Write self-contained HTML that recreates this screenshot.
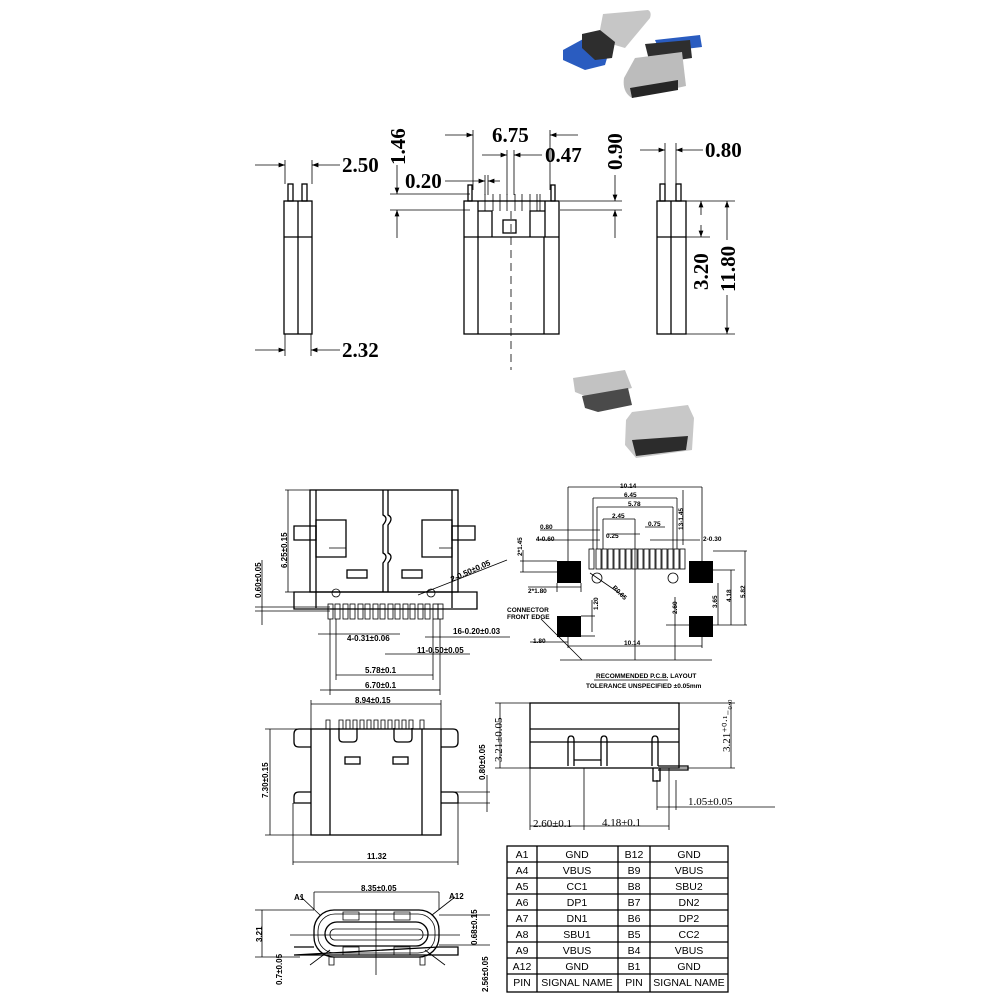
<!DOCTYPE html>
<html><head><meta charset="utf-8"><style>
html,body{margin:0;padding:0;background:#fff}
svg{display:block}
.s{fill:none;stroke:#000;stroke-width:1.3}
.t{fill:none;stroke:#000;stroke-width:0.8}
.big{font-family:"Liberation Serif",serif;font-weight:bold;font-size:21px}
.sm{font-family:"Liberation Sans",sans-serif;font-size:8px;font-weight:bold}
.tb{font-family:"Liberation Sans",sans-serif;font-size:10.5px}
</style></head><body>
<svg width="1002" height="1002" viewBox="0 0 1002 1002" xmlns="http://www.w3.org/2000/svg">
<defs><marker id="a" markerWidth="8" markerHeight="6" refX="8" refY="3" orient="auto-start-reverse"><path d="M0,0L8,3L0,6z"/></marker></defs>
<rect width="1002" height="1002" fill="#fff"/>

<!-- photo 1 -->
<g>
<path d="M603,14 L648,10 Q652,12 650,18 L625,48 L598,40Z" fill="#c6c6c6"/>
<path d="M563,50 L585,38 L610,48 L605,65 L585,70 L563,60Z" fill="#2a5cc0"/>
<path d="M582,34 L600,30 L615,42 L612,58 L595,60 L582,48Z" fill="#2e2e2e"/>
<path d="M655,40 L700,35 L702,47 L660,52Z" fill="#2a5cc0"/>
<path d="M645,44 L690,40 L692,58 L650,64Z" fill="#2e2e2e"/>
<path d="M635,58 L682,52 L686,86 L632,98 Q622,92 624,78Z" fill="#bcbcbc"/>
<path d="M630,88 L678,80 L678,90 L632,98Z" fill="#262626"/>
</g>
<!-- photo 2 -->
<g>
<path d="M573,378 L625,370 L632,388 L590,398 L575,392Z" fill="#c2c2c2"/>
<path d="M582,396 L628,388 L632,405 L598,412 L585,408Z" fill="#4a4a4a"/>
<path d="M632,412 L688,405 L694,418 L692,450 L636,458 L625,445 L626,420Z" fill="#c8c8c8"/>
<path d="M632,440 L688,436 L686,450 L636,456Z" fill="#2c2c2c"/>
</g>

<!-- TOP: left side view -->
<g class="s">
<rect x="284" y="201" width="28" height="133"/>
<line x1="298" y1="201" x2="298" y2="334"/>
<line x1="284" y1="237" x2="312" y2="237"/>
<rect x="288" y="184" width="5" height="17"/>
<rect x="302" y="184" width="5" height="17"/>
</g>
<g class="t">
<line x1="285" y1="160" x2="285" y2="184"/><line x1="312" y1="160" x2="312" y2="184"/>
<line x1="255" y1="165" x2="285" y2="165" marker-end="url(#a)"/><line x1="340" y1="165" x2="312" y2="165" marker-end="url(#a)"/>
<line x1="285" y1="334" x2="285" y2="356"/><line x1="311" y1="334" x2="311" y2="356"/>
<line x1="255" y1="350" x2="285" y2="350" marker-end="url(#a)"/><line x1="340" y1="350" x2="311" y2="350" marker-end="url(#a)"/>
</g>
<text class="big" x="342" y="172">2.50</text>
<text class="big" x="342" y="357">2.32</text>

<!-- TOP: middle view -->
<g class="s">
<rect x="464" y="201" width="95" height="133"/>
<line x1="478" y1="237" x2="478" y2="334"/><line x1="544" y1="237" x2="544" y2="334"/>
<line x1="464" y1="237" x2="559" y2="237"/>
<line x1="478" y1="201" x2="478" y2="237"/><line x1="545" y1="201" x2="545" y2="237"/>
<path d="M478,211 L492,211 L492,237 M545,211 L530,211 L530,237"/>
<rect x="468" y="185" width="4" height="16"/><rect x="551" y="185" width="4" height="16"/>
<rect x="503" y="220" width="13" height="13"/>
</g>
<g class="t">
<path d="M485,194v17M493,194v17M500,194v17M507,194v17M515,194v17M522,194v17M530,194v17M537,194v17M540,194v17"/>
<line x1="511" y1="211" x2="511" y2="370" stroke-dasharray="8,5"/>
<line x1="473" y1="130" x2="473" y2="190"/><line x1="550" y1="130" x2="550" y2="190"/>
<line x1="445" y1="135" x2="473" y2="135" marker-end="url(#a)"/><line x1="578" y1="135" x2="550" y2="135" marker-end="url(#a)"/>
<line x1="507" y1="150" x2="507" y2="195"/><line x1="514" y1="150" x2="514" y2="195"/>
<line x1="482" y1="155" x2="507" y2="155" marker-end="url(#a)"/><line x1="542" y1="155" x2="514" y2="155" marker-end="url(#a)"/>
<line x1="485" y1="175" x2="485" y2="195"/><line x1="488" y1="175" x2="488" y2="195"/>
<line x1="445" y1="181" x2="485" y2="181" marker-end="url(#a)"/><line x1="500" y1="181" x2="488" y2="181" marker-end="url(#a)"/>
<line x1="390" y1="194" x2="470" y2="194"/><line x1="390" y1="210" x2="470" y2="210"/>
<line x1="397" y1="165" x2="397" y2="194" marker-end="url(#a)"/><line x1="397" y1="238" x2="397" y2="210" marker-end="url(#a)"/>
<line x1="560" y1="201" x2="622" y2="201"/><line x1="560" y1="210" x2="622" y2="210"/>
<line x1="615" y1="175" x2="615" y2="201" marker-end="url(#a)"/><line x1="615" y1="238" x2="615" y2="210" marker-end="url(#a)"/>
</g>
<text class="big" x="492" y="142">6.75</text>
<text class="big" x="545" y="162">0.47</text>
<text class="big" x="405" y="188">0.20</text>
<text class="big" transform="translate(405,165) rotate(-90)">1.46</text>
<text class="big" transform="translate(622,170) rotate(-90)">0.90</text>

<!-- TOP: right view -->
<g class="s">
<rect x="657" y="201" width="29" height="133"/>
<line x1="671" y1="201" x2="671" y2="334"/>
<line x1="657" y1="237" x2="686" y2="237"/>
<rect x="660" y="184" width="5" height="17"/><rect x="676" y="184" width="5" height="17"/>
</g>
<g class="t">
<line x1="665" y1="143" x2="665" y2="184"/><line x1="676" y1="143" x2="676" y2="184"/>
<line x1="640" y1="150" x2="665" y2="150" marker-end="url(#a)"/><line x1="703" y1="150" x2="676" y2="150" marker-end="url(#a)"/>
<line x1="686" y1="201" x2="735" y2="201"/><line x1="686" y1="237" x2="710" y2="237"/><line x1="686" y1="334" x2="735" y2="334"/>
<line x1="701" y1="215" x2="701" y2="201" marker-end="url(#a)"/><line x1="701" y1="225" x2="701" y2="237" marker-end="url(#a)"/>
<line x1="727" y1="240" x2="727" y2="201" marker-end="url(#a)"/><line x1="727" y1="295" x2="727" y2="334" marker-end="url(#a)"/>
</g>
<text class="big" x="705" y="157">0.80</text>
<text class="big" transform="translate(708,290) rotate(-90)">3.20</text>
<text class="big" transform="translate(735,292) rotate(-90)">11.80</text>

<!-- MIDDLE LEFT -->
<g class="s">
<rect x="310" y="490" width="148" height="102"/>
<line x1="316" y1="490" x2="316" y2="608"/><line x1="452" y1="490" x2="452" y2="608"/>
<path d="M294,526h22v14h-22z M452,526h23v14h-23z" />
<path d="M294,592h183v17h-183z"/>
<path d="M383,490v25q6,3 0,10v28q6,3 0,10v29M388,490v25q6,3 0,10v28q6,3 0,10v29"/>
<path d="M316,520h30v37h-30z M422,520h30v37h-30z"/>
<path d="M329,548h17v9M439,548h13v9" class="t"/>
<rect x="347" y="570" width="20" height="8"/><rect x="402" y="570" width="20" height="8"/>
</g>
<g class="t">
<circle cx="336" cy="593" r="4"/><circle cx="431" cy="593" r="4"/>
<rect x="328" y="604" width="5" height="15"/><rect x="335" y="604" width="5" height="15"/><rect x="343" y="604" width="5" height="15"/><rect x="350" y="604" width="5" height="15"/><rect x="358" y="604" width="5" height="15"/><rect x="365" y="604" width="5" height="15"/><rect x="373" y="604" width="5" height="15"/><rect x="380" y="604" width="5" height="15"/><rect x="388" y="604" width="5" height="15"/><rect x="395" y="604" width="5" height="15"/><rect x="403" y="604" width="5" height="15"/><rect x="410" y="604" width="5" height="15"/><rect x="418" y="604" width="5" height="15"/><rect x="425" y="604" width="5" height="15"/><rect x="433" y="604" width="5" height="15"/><rect x="438" y="604" width="5" height="15"/>
<line x1="285" y1="490" x2="310" y2="490"/><line x1="285" y1="592" x2="294" y2="592"/>
<line x1="288" y1="490" x2="288" y2="592"/>
<line x1="255" y1="607" x2="330" y2="607"/><line x1="255" y1="611" x2="330" y2="611"/>
<line x1="262" y1="560" x2="262" y2="625"/>
<line x1="330" y1="619" x2="330" y2="695"/><line x1="440" y1="619" x2="440" y2="695"/>
<line x1="336" y1="619" x2="336" y2="680"/><line x1="433" y1="619" x2="433" y2="680"/>
<line x1="336" y1="675" x2="433" y2="675"/><line x1="330" y1="690" x2="440" y2="690"/>
<line x1="318" y1="634" x2="400" y2="634"/>
<line x1="385" y1="654" x2="470" y2="654"/>
<line x1="425" y1="637" x2="510" y2="637"/>
<line x1="418" y1="595" x2="507" y2="560"/>
</g>
<text class="sm" transform="translate(287,568) rotate(-90)">6.25±0.15</text>
<text class="sm" transform="translate(261,598) rotate(-90)">0.60±0.05</text>
<text class="sm" transform="translate(452,582) rotate(-24)">2-0.50±0.05</text>
<text class="sm" x="453" y="634">16-0.20±0.03</text>
<text class="sm" x="347" y="641">4-0.31±0.06</text>
<text class="sm" x="417" y="653">11-0.50±0.05</text>
<text class="sm" x="365" y="673">5.78±0.1</text>
<text class="sm" x="365" y="688">6.70±0.1</text>

<!-- MIDDLE RIGHT PCB -->
<g fill="#000">
<rect x="557" y="561" width="24" height="22"/><rect x="689" y="561" width="24" height="22"/>
<rect x="557" y="616" width="24" height="21"/><rect x="689" y="616" width="24" height="21"/>
</g>
<g class="t">
<rect x="589" y="549" width="5" height="20"/><rect x="596" y="549" width="5" height="20"/><rect x="602" y="549" width="5" height="20"/><rect x="608" y="549" width="5" height="20"/><rect x="614" y="549" width="5" height="20"/><rect x="620" y="549" width="5" height="20"/><rect x="626" y="549" width="5" height="20"/><rect x="632" y="549" width="5" height="20"/><rect x="638" y="549" width="5" height="20"/><rect x="644" y="549" width="5" height="20"/><rect x="650" y="549" width="5" height="20"/><rect x="656" y="549" width="5" height="20"/><rect x="662" y="549" width="5" height="20"/><rect x="668" y="549" width="5" height="20"/><rect x="674" y="549" width="5" height="20"/><rect x="680" y="549" width="5" height="20"/>
<circle cx="597" cy="578" r="5"/><circle cx="673" cy="578" r="5"/>
<line x1="568" y1="487" x2="702" y2="487"/><line x1="568" y1="487" x2="568" y2="561"/><line x1="702" y1="487" x2="702" y2="561"/>
<line x1="593" y1="498" x2="677" y2="498"/><line x1="593" y1="498" x2="593" y2="549"/><line x1="677" y1="498" x2="677" y2="549"/>
<line x1="597" y1="507" x2="673" y2="507"/><line x1="597" y1="507" x2="597" y2="549"/><line x1="673" y1="507" x2="673" y2="549"/>
<line x1="603" y1="519" x2="635" y2="519"/><line x1="603" y1="519" x2="603" y2="549"/><line x1="635" y1="519" x2="635" y2="660"/>
<line x1="540" y1="530" x2="600" y2="530"/><line x1="536" y1="540" x2="600" y2="540"/>
<line x1="607" y1="534" x2="640" y2="534"/><line x1="645" y1="527" x2="665" y2="527"/><line x1="650" y1="540" x2="700" y2="540"/>
<line x1="683" y1="490" x2="683" y2="545"/>
<line x1="523" y1="550" x2="523" y2="572"/><line x1="520" y1="561" x2="557" y2="561"/><line x1="520" y1="572" x2="557" y2="572"/>
<line x1="528" y1="587" x2="581" y2="587"/><line x1="557" y1="583" x2="557" y2="592"/><line x1="581" y1="583" x2="581" y2="592"/>
<line x1="592" y1="600" x2="592" y2="632"/><line x1="581" y1="616" x2="595" y2="616"/><line x1="581" y1="636" x2="595" y2="636"/>
<line x1="530" y1="642" x2="568" y2="642"/><line x1="568" y1="636" x2="568" y2="648"/>
<line x1="568" y1="646" x2="702" y2="646"/><line x1="702" y1="636" x2="702" y2="648"/>
<line x1="560" y1="660" x2="712" y2="660"/>
<line x1="541" y1="619" x2="582" y2="660"/>
<line x1="590" y1="573" x2="625" y2="597"/>
<line x1="713" y1="551" x2="747" y2="551"/><line x1="713" y1="570" x2="735" y2="570"/><line x1="713" y1="625" x2="747" y2="625"/>
<line x1="745" y1="551" x2="745" y2="625"/><line x1="731" y1="570" x2="731" y2="625"/><line x1="718" y1="583" x2="718" y2="625"/>
<line x1="675" y1="597" x2="675" y2="660"/><line x1="666" y1="625" x2="689" y2="625"/>
<line x1="594" y1="680" x2="668" y2="680"/>
</g>
<g class="sm" style="font-size:6.5px">
<text x="620" y="488">10.14</text><text x="624" y="497">6.45</text><text x="628" y="506">5.78</text><text x="612" y="518">2.45</text>
<text x="540" y="529">0.80</text><text x="536" y="541">4-0.60</text><text x="606" y="538">0.25</text><text x="648" y="526">0.75</text><text x="703" y="541">2-0.30</text>
<text x="528" y="593">2*1.80</text><text x="533" y="643">1.80</text><text x="624" y="645">10.14</text>
<text x="507" y="612">CONNECTOR</text><text x="507" y="619">FRONT EDGE</text>
<text transform="translate(522,556) rotate(-90)">2*1.45</text>
<text transform="translate(683,530) rotate(-90)">13-1.45</text>
<text transform="translate(598,610) rotate(-90)">1.20</text>
<text transform="translate(677,614) rotate(-90)">2.60</text>
<text transform="translate(717,608) rotate(-90)">3.65</text>
<text transform="translate(731,602) rotate(-90)">4.18</text>
<text transform="translate(745,598) rotate(-90)">5.82</text>
<text transform="translate(612,588) rotate(45)">R0.65</text>
<text x="596" y="678">RECOMMENDED P.C.B. LAYOUT</text>
<text x="586" y="688">TOLERANCE UNSPECIFIED ±0.05mm</text>
</g>

<!-- LOWER LEFT front view -->
<g class="s">
<rect x="311" y="729" width="130" height="106"/>
<line x1="330" y1="729" x2="330" y2="835"/><line x1="422" y1="729" x2="422" y2="835"/>
<path d="M311,729h-12q-5,0 -5,5v8q0,5 5,5h12M441,729h12q5,0 5,5v8q0,5 -5,5h-12"/>
<path d="M311,792h-12q-5,0 -5,5v6h17M441,792h12q5,0 5,5v6h-17"/>
<path d="M339,728v10q0,4 4,4h10q4,0 4,-4v-10M394,728v10q0,4 4,4h10q4,0 4,-4v-10"/>
<rect x="345" y="757" width="15" height="7"/><rect x="393" y="757" width="15" height="7"/>
</g>
<g class="t">
<path d="M326,729v-9h4v9M339,729v-9h4v9M346,729v-9h4v9M353,729v-9h4v9M360,729v-9h4v9M367,729v-9h4v9M374,729v-9h4v9M381,729v-9h4v9M388,729v-9h4v9M395,729v-9h4v9M402,729v-9h4v9M409,729v-9h4v9M420,729v-9h4v9"/>
<line x1="311" y1="704" x2="441" y2="704"/><line x1="311" y1="700" x2="311" y2="729"/><line x1="441" y1="700" x2="441" y2="729"/>
<line x1="265" y1="729" x2="299" y2="729"/><line x1="265" y1="835" x2="311" y2="835"/><line x1="270" y1="729" x2="270" y2="835"/>
<line x1="441" y1="792" x2="490" y2="792"/><line x1="441" y1="803" x2="490" y2="803"/><line x1="487" y1="775" x2="487" y2="812"/>
<line x1="293" y1="803" x2="293" y2="865"/><line x1="458" y1="803" x2="458" y2="865"/><line x1="293" y1="862" x2="458" y2="862"/>
<line x1="320" y1="690" x2="440" y2="690"/>
</g>
<text class="sm" x="355" y="703">8.94±0.15</text>
<text class="sm" transform="translate(268,798) rotate(-90)">7.30±0.15</text>
<text class="sm" transform="translate(485,780) rotate(-90)">0.80±0.05</text>
<text class="sm" x="367" y="859">11.32</text>

<!-- LOWER side view -->
<g class="s">
<rect x="530" y="703" width="149" height="65"/>
<line x1="530" y1="729" x2="679" y2="729"/><line x1="530" y1="742" x2="679" y2="742"/>
<path d="M568,766v-26q0,-4 3,-4t3,4v26M601,766v-26q0,-4 3,-4t3,4v26M652,766v-26q0,-4 3,-4t3,4v26"/>
<path d="M574,760h27M658,766h30v4h-30M653,768v13h7v-13"/>
</g>
<g class="t">
<line x1="495" y1="703" x2="530" y2="703"/><line x1="495" y1="768" x2="530" y2="768"/><line x1="500" y1="703" x2="500" y2="768"/>
<line x1="679" y1="703" x2="735" y2="703"/><line x1="679" y1="768" x2="735" y2="768"/><line x1="731" y1="703" x2="731" y2="768"/>
<line x1="530" y1="768" x2="530" y2="830"/><line x1="584" y1="768" x2="584" y2="830"/><line x1="669" y1="768" x2="669" y2="830"/>
<line x1="530" y1="826" x2="584" y2="826"/><line x1="584" y1="826" x2="669" y2="826"/>
<line x1="657" y1="780" x2="657" y2="810"/><line x1="676" y1="780" x2="676" y2="810"/><line x1="657" y1="807" x2="775" y2="807"/>
</g>
<text style="font-family:'Liberation Serif',serif;font-size:11px" transform="translate(502,762) rotate(-90)">3.21±0.05</text>
<text style="font-family:'Liberation Serif',serif;font-size:11px" transform="translate(730,752) rotate(-90)">3.21⁺⁰·¹₋₀.₀</text>
<text style="font-family:'Liberation Serif',serif;font-size:11px" x="533" y="827">2.60±0.1</text>
<text style="font-family:'Liberation Serif',serif;font-size:11px" x="602" y="826">4.18±0.1</text>
<text style="font-family:'Liberation Serif',serif;font-size:11px" x="688" y="805">1.05±0.05</text>

<!-- bottom view -->
<g class="s">
<rect x="314" y="910" width="125" height="47" rx="20"/>
<rect x="318" y="914" width="117" height="39" rx="17" class="t"/>
<rect x="325" y="922" width="103" height="24" rx="12"/>
<rect x="330" y="929" width="93" height="11" rx="5" class="t"/>
<path d="M294,947h20M439,947h19v8h-164z"/>
<path d="M343,920v-8h16v8zM394,920v-8h16v8zM343,947v8h16v-8zM394,947v8h16v-8z" class="t"/>
<path d="M329,957v8h5v-8M420,957v8h5v-8" class="t"/>
</g>
<g class="t">
<line x1="376" y1="910" x2="376" y2="975"/>
<line x1="290" y1="935" x2="460" y2="935"/>
<line x1="314" y1="892" x2="439" y2="892"/><line x1="314" y1="892" x2="314" y2="910"/><line x1="439" y1="892" x2="439" y2="910"/>
<line x1="255" y1="910" x2="314" y2="910"/><line x1="255" y1="957" x2="300" y2="957"/><line x1="262" y1="910" x2="262" y2="957"/>
<line x1="300" y1="896" x2="320" y2="915"/><line x1="455" y1="897" x2="432" y2="915"/>
<line x1="439" y1="915" x2="490" y2="915"/><line x1="439" y1="945" x2="490" y2="945"/>
<line x1="310" y1="965" x2="330" y2="950"/><line x1="445" y1="965" x2="425" y2="950"/>
</g>
<text class="sm" x="294" y="900">A1</text><text class="sm" x="449" y="899">A12</text>
<text class="sm" x="361" y="891">8.35±0.05</text>
<text class="sm" transform="translate(262,942) rotate(-90)">3.21</text>
<text class="sm" transform="translate(282,985) rotate(-90)">0.7±0.05</text>
<text class="sm" transform="translate(477,945) rotate(-90)">0.68±0.15</text>
<text class="sm" transform="translate(488,992) rotate(-90)">2.56±0.05</text>

<!-- TABLE -->
<g class="s">
<rect x="507" y="846" width="221" height="146"/>
<path d="M537,846v146M618,846v146M650,846v146"/>
<path d="M507,862h221M507,878h221M507,894h221M507,910h221M507,926h221M507,942h221M507,958h221M507,974h221"/>
</g>
<g class="tb" text-anchor="middle">
<text x="522" y="858">A1</text><text x="577" y="858">GND</text><text x="634" y="858">B12</text><text x="689" y="858">GND</text>
<text x="522" y="874">A4</text><text x="577" y="874">VBUS</text><text x="634" y="874">B9</text><text x="689" y="874">VBUS</text>
<text x="522" y="890">A5</text><text x="577" y="890">CC1</text><text x="634" y="890">B8</text><text x="689" y="890">SBU2</text>
<text x="522" y="906">A6</text><text x="577" y="906">DP1</text><text x="634" y="906">B7</text><text x="689" y="906">DN2</text>
<text x="522" y="922">A7</text><text x="577" y="922">DN1</text><text x="634" y="922">B6</text><text x="689" y="922">DP2</text>
<text x="522" y="938">A8</text><text x="577" y="938">SBU1</text><text x="634" y="938">B5</text><text x="689" y="938">CC2</text>
<text x="522" y="954">A9</text><text x="577" y="954">VBUS</text><text x="634" y="954">B4</text><text x="689" y="954">VBUS</text>
<text x="522" y="970">A12</text><text x="577" y="970">GND</text><text x="634" y="970">B1</text><text x="689" y="970">GND</text>
<text x="522" y="986">PIN</text><text x="577" y="986">SIGNAL NAME</text><text x="634" y="986">PIN</text><text x="689" y="986">SIGNAL NAME</text>
</g>
</svg>
</body></html>
